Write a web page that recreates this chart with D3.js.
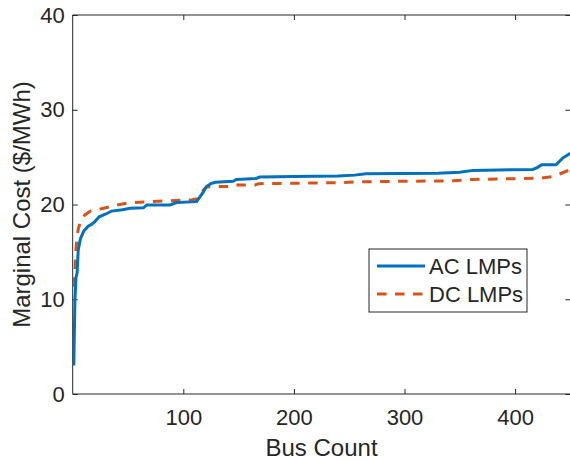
<!DOCTYPE html>
<html>
<head>
<meta charset="utf-8">
<script src="https://cdn.jsdelivr.net/npm/d3@7"></script>
<style>
  html, body { margin: 0; padding: 0; background: #fff; }
  svg { display: block; }
  text { font-family: "Liberation Sans", Arial, Helvetica, sans-serif; fill: #262626; }
</style>
</head>
<body>
<svg id="chart" width="570" height="462"></svg>
<script>
// ---- data ----
const acBus = [1, 2, 3, 4, 5, 7, 10, 14, 17, 20, 24, 30, 35, 45, 52, 64, 67, 88, 94, 112, 115, 118, 121, 125, 129, 145, 148, 166, 169, 200, 240, 255, 265, 330, 350, 362, 416, 420, 424, 437, 443, 450];
const acLmp = [3.0, 9.9, 12.3, 12.8, 15.2, 16.4, 17.2, 17.7, 17.9, 18.2, 18.7, 19.0, 19.3, 19.45, 19.6, 19.65, 19.95, 19.95, 20.2, 20.3, 20.8, 21.3, 21.9, 22.2, 22.35, 22.45, 22.65, 22.75, 22.9, 22.95, 23.0, 23.1, 23.25, 23.3, 23.4, 23.6, 23.7, 23.9, 24.2, 24.2, 24.9, 25.4];
const dcBus = [1, 2, 3, 4, 5, 7, 11, 16, 28, 40, 52, 70, 88, 108, 113, 118, 121, 133, 144, 147, 165, 168, 242, 260, 344, 362, 422, 434, 442, 450];
const dcLmp = [11.3, 13.0, 15.4, 16.6, 17.4, 18.2, 18.9, 19.3, 19.6, 19.95, 20.2, 20.3, 20.4, 20.5, 20.6, 21.5, 21.85, 21.9, 21.9, 22.06, 22.06, 22.2, 22.3, 22.4, 22.5, 22.65, 22.77, 22.95, 23.3, 23.7];
const xTicks = [100, 200, 300, 400];
const yTicks = [0, 10, 20, 30, 40];
const seriesNames = ["AC LMPs", "DC LMPs"];
const xLabel = "Bus Count";
const yLabel = "Marginal Cost ($/MWh)";

// ---- layout ----
const L = 72.7, R = 570.4, T = 15, B = 394;
const svg = d3.select("#chart");
const x = d3.scaleLinear().domain([0, 450]).range([L, R]);
const y = d3.scaleLinear().domain([0, 40]).range([B, T]);
const axisColor = "#262626";
const tickLen = 5;

svg.append("defs").append("clipPath").attr("id", "clip")
  .append("rect").attr("x", L).attr("y", T).attr("width", R - L).attr("height", B - T);

// axes
const gx = svg.append("g").attr("transform", `translate(0,${B})`)
  .call(d3.axisBottom(x).tickValues(xTicks).tickSize(-tickLen).tickPadding(15).tickFormat(d3.format("d")));
const gxTop = svg.append("g").attr("transform", `translate(0,${T})`)
  .call(d3.axisTop(x).tickValues(xTicks).tickSize(-tickLen).tickFormat(""));
const gy = svg.append("g").attr("transform", `translate(${L},0)`)
  .call(d3.axisLeft(y).tickValues(yTicks).tickSize(-tickLen).tickPadding(8).tickFormat(d3.format("d")));
const gyR = svg.append("g").attr("transform", `translate(${R},0)`)
  .call(d3.axisRight(y).tickValues(yTicks).tickSize(-tickLen).tickFormat(""));

[gx, gxTop, gy, gyR].forEach(g => {
  g.selectAll(".domain").remove();
  g.selectAll(".tick line").attr("stroke", axisColor).attr("stroke-width", 1);
  g.selectAll(".tick text").attr("font-size", 22).attr("fill", axisColor)
    .attr("font-family", '"Liberation Sans", Arial, sans-serif');
});
// box lines (right edge falls outside the picture)
svg.append("line").attr("x1", L).attr("x2", R).attr("y1", B).attr("y2", B).attr("stroke", axisColor);
svg.append("line").attr("x1", L).attr("x2", R).attr("y1", T).attr("y2", T).attr("stroke", axisColor);
svg.append("line").attr("x1", L).attr("x2", L).attr("y1", T).attr("y2", B).attr("stroke", axisColor);

// lines
const line = d3.line().x(d => x(d[0])).y(d => y(d[1]));
const acData = acBus.map((b, i) => [b, acLmp[i]]);
const dcData = dcBus.map((b, i) => [b, dcLmp[i]]);
const plot = svg.append("g").attr("clip-path", "url(#clip)");
plot.append("path").datum(dcData).attr("d", line).attr("fill", "none")
  .attr("stroke", "#D95319").attr("stroke-width", 3).attr("stroke-dasharray", "9.5,8.5");
plot.append("path").datum(acData).attr("d", line).attr("fill", "none")
  .attr("stroke", "#0072BD").attr("stroke-width", 3);

// labels
svg.append("text").attr("x", (L + R) / 2).attr("y", 456).attr("text-anchor", "middle")
  .attr("font-size", 24).text(xLabel);
svg.append("text").attr("transform", `translate(30,${(T + B) / 2}) rotate(-90)`)
  .attr("text-anchor", "middle").attr("font-size", 24).text(yLabel);

// legend
const lg = svg.append("g");
lg.append("rect").attr("x", 369).attr("y", 249).attr("width", 158).attr("height", 63)
  .attr("fill", "#fff").attr("stroke", axisColor).attr("stroke-width", 1);
const rows = [
  { name: seriesNames[0], color: "#0072BD", dash: null, yy: 266 },
  { name: seriesNames[1], color: "#D95319", dash: "9.5,8.5", yy: 294 }
];
rows.forEach(r => {
  lg.append("line").attr("x1", 377).attr("x2", 425).attr("y1", r.yy).attr("y2", r.yy)
    .attr("stroke", r.color).attr("stroke-width", 3).attr("stroke-dasharray", r.dash);
  lg.append("text").attr("x", 429).attr("y", r.yy).attr("dy", "0.36em")
    .attr("font-size", 22).text(r.name);
});
</script>
</body>
</html>
